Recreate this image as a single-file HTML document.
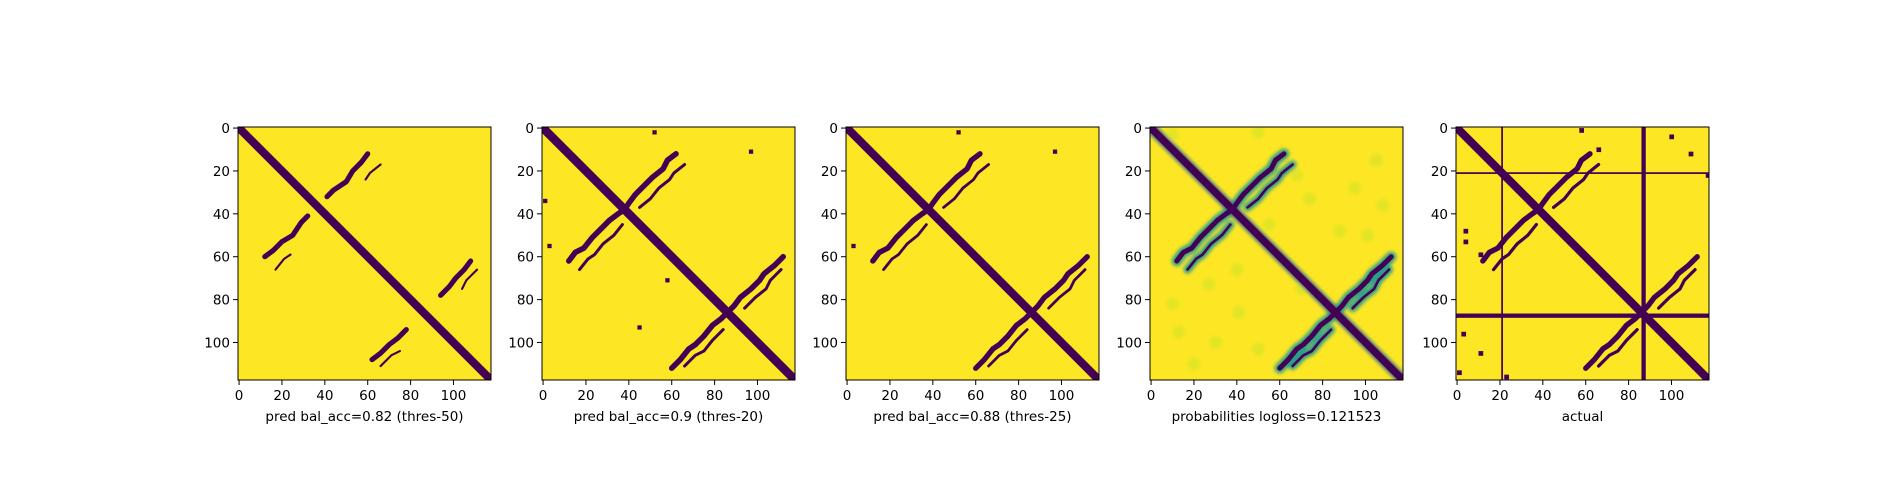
<!DOCTYPE html>
<html><head><meta charset="utf-8"><style>
body{margin:0;background:#fff;width:1900px;height:500px;overflow:hidden;font-family:"DejaVu Sans","Liberation Sans",sans-serif;}
svg text{font-family:"DejaVu Sans","Liberation Sans",sans-serif;}
</style></head><body>
<svg id="fig" width="1900" height="500"></svg>
<script>
const N = 118;
const panelLefts = [238, 542, 846, 1150, 1456];
const titles = ["pred bal_acc=0.82 (thres-50)", "pred bal_acc=0.9 (thres-20)", "pred bal_acc=0.88 (thres-25)", "probabilities logloss=0.121523", "actual"];
const ticks = [0, 20, 40, 60, 80, 100];
const strandA = [[12,62],[15,58],[19,56],[23,51],[27,47],[31,43],[35,40],[38,38]];
const strandA2 = [[17,66],[21,61],[24,59],[28,54],[33,50],[37,45]];
const strandB = [[60,112],[64,108],[68,103],[71,101],[75,97],[79,92],[83,89],[86,86]];
const strandB2 = [[66,111],[71,106],[75,104],[79,99],[84,94]];
const shortA = [[12,60],[16,57],[20,53],[25,50],[29,44],[32,41]];
const shortB = [[62,108],[66,105],[70,101],[74,98],[78,94]];
const strandWidths = [[2.4,1.0,2.4,1.0],[2.6,1.4,2.6,1.4],[2.5,1.3,2.5,1.3],[2.3,1.2,2.3,1.2],[2.5,1.5,2.5,1.5]];
const diagWidths = [3.8,4.0,3.8,3.4,3.8];
const noise2 = [[2,52],[11,97],[55,3],[34,1],[93,45],[71,58]];
const noise5 = [[1,58],[4,100],[10,66],[12,109],[22,117],[48,4],[53,4],[59,11],[105,11],[114,1],[116,23],[96,3]];
const blobs4 = [[3,10],[2,50],[22,68],[28,95],[33,74],[36,108],[48,88],[50,101],[60,16],[73,27],[82,10],[86,41],[95,13],[100,30],[103,50],[110,20],[45,55],[66,40],[15,105],[75,70]];
const actualRows = [[21,0.8],[87.5,2.0]];
const actualCols = [[21,0.8],[87,2.0]];
const topY = 127, S = 253;
const NS = "http://www.w3.org/2000/svg";
const fig = document.getElementById('fig');
function el(t, a, p){const e=document.createElementNS(NS,t);for(const k in a)e.setAttribute(k,a[k]);(p||fig).appendChild(e);return e;}
const sc = S / N;
function X(c){return (c+0.5)*sc;}
function Y(r){return (r+0.5)*sc;}
function poly(g, pts, w, col, transpose){
  const s = pts.map(p=> transpose ? X(p[0])+','+Y(p[1]) : X(p[1])+','+Y(p[0])).join(' ');
  return el('polyline',{points:s,fill:'none',stroke:col,'stroke-width':w*sc,'stroke-linejoin':'round','stroke-linecap':'round'},g);
}
panelLefts.forEach((L, i) => {
  const g = el('g',{transform:`translate(${L},${topY})`});
  
  
  el('defs',{},g).innerHTML = `<clipPath id="cp${i}"><rect width="${S}" height="${S}"/></clipPath><filter id="bl${i}"><feGaussianBlur stdDeviation="1.8"/></filter>`;
  const inner = el('g',{'clip-path':`url(#cp${i})`},g);
  el('rect',{width:S,height:S,fill:'#fde725'},inner);
  const dark = '#440154';
  const sw = strandWidths[i];
  const strands = i === 0 ? [shortA, strandA2.slice(0,3), shortB, strandB2.slice(0,3)] : [strandA, strandA2, strandB, strandB2];
  if (i === 3) {
    const bg = el('g',{filter:`url(#bl${i})`},inner);
    blobs4.forEach(b=>{ el('circle',{cx:X(b[1]),cy:Y(b[0]),r:3*sc,fill:'#c2df23',opacity:0.45},bg); });
    strands.forEach((s,k)=>{ poly(bg,s,sw[k]+2.5,'#2a9d8a',false); poly(bg,s,sw[k]+2.5,'#2a9d8a',true); });
    poly(bg,[[0,0],[117,117]],diagWidths[i]+1.5,'#31688e',false);
  }
  strands.forEach((s,k)=>{
    const a = poly(inner,s,sw[k],dark,false);
    
    
    const b = poly(inner,s,sw[k],dark,true);
    
    
  });
  const d = poly(inner,[[0,0],[117,117]],diagWidths[i],dark,false);
  
  
  if (i === 1 || i === 2) noise2.slice(0, i===1?6:3).forEach(n=>{ el('rect',{x:X(n[1])-sc,y:Y(n[0])-sc,width:2*sc,height:2*sc,fill:dark},inner); });
  if (i === 4) {
    noise5.forEach(n=>{ el('rect',{x:X(n[1])-sc,y:Y(n[0])-sc,width:2.2*sc,height:2.2*sc,fill:dark},inner); });
    actualRows.forEach(r=>{ const e=el('rect',{x:0,y:Y(r[0])-r[1]*sc/2,width:S,height:r[1]*sc,fill:dark},inner);
        });
    actualCols.forEach(c=>{ const e=el('rect',{y:0,x:X(c[0])-c[1]*sc/2,height:S,width:c[1]*sc,fill:dark},inner);
        });
  }
  el('rect',{width:S,height:S,fill:'none',stroke:'#000','stroke-width':1},g);
  ticks.forEach(t=>{
    const p = X(t);
    el('line',{x1:p,x2:p,y1:S,y2:S+5,stroke:'#000'},g);
    const tx = el('text',{x:p,y:S+20,'font-size':13.5,'text-anchor':'middle',fill:'#000'},g); tx.textContent=t;
     
    const py = Y(t);
    el('line',{x1:-5,x2:0,y1:py,y2:py,stroke:'#000'},g);
    const ty = el('text',{x:-8,y:py+5,'font-size':13.5,'text-anchor':'end',fill:'#000'},g); ty.textContent=t;
     
  });
  const tt = el('text',{x:S/2,y:S+41,'font-size':13.5,'text-anchor':'middle',fill:'#000'},g);
  tt.textContent = titles[i];
  
  
});
</script>
</body></html>
